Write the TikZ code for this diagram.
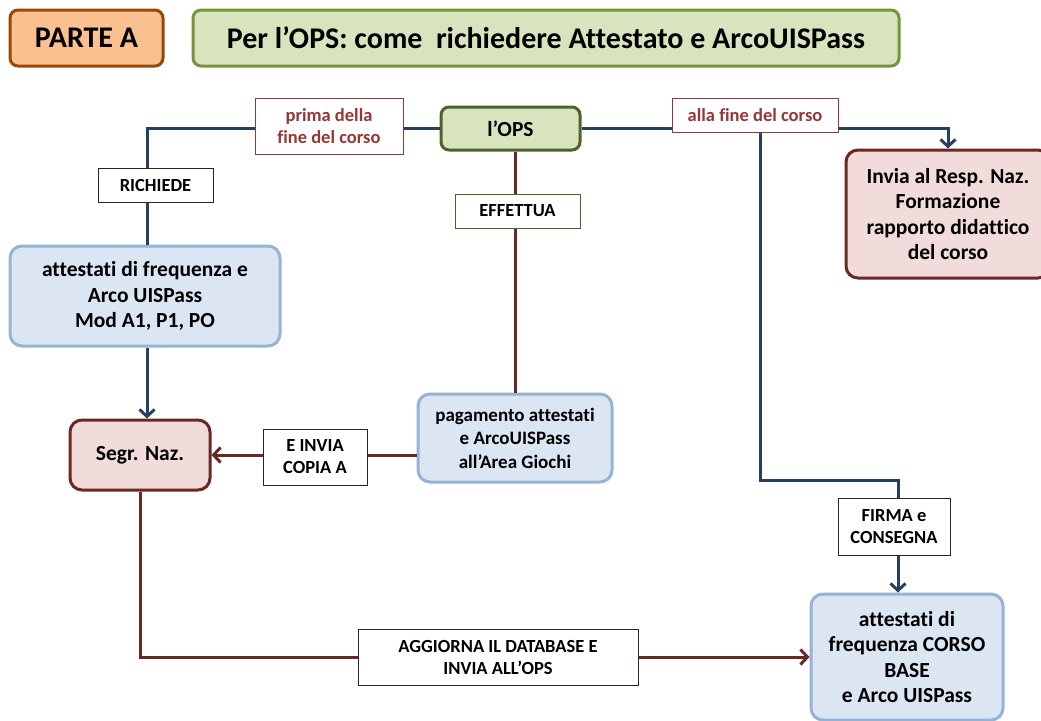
\documentclass[tikz,border=0pt]{standalone}
\usepackage{fontspec}
\setmainfont{Carlito}[Ligatures=NoCommon]
\usetikzlibrary{arrows.meta}
\definecolor{navy}{HTML}{27405F}
\definecolor{darkred}{HTML}{682826}
\definecolor{tagred}{HTML}{953735}
\definecolor{boxblue}{HTML}{DCE6F2}
\definecolor{edgeblue}{HTML}{95B3D7}
\definecolor{boxpink}{HTML}{F2DCDB}
\definecolor{boxgreen}{HTML}{D7E4BD}
\definecolor{edgegreen}{HTML}{77933C}
\definecolor{olive}{HTML}{4F6228}
\definecolor{boxorange}{HTML}{FAC090}
\definecolor{edgeorange}{HTML}{984807}
\tikzset{>={Straight Barb[length=7pt,width=15pt]}}
\tikzset{
  box/.style={rounded corners=12pt, line width=3pt, align=center, inner sep=2pt,
    font=\bfseries\fontsize{21.5}{25.5}\selectfont},
  bluebox/.style={box, fill=boxblue, draw=edgeblue},
  pinkbox/.style={box, fill=boxpink, draw=darkred},
  tag/.style={draw=black!85, fill=white, line width=1pt, align=center, inner sep=2pt,
    font=\bfseries\fontsize{18.5}{22}\selectfont},
  redtag/.style={tag, draw=tagred, text=tagred},
  navyline/.style={draw=navy, line width=3pt},
  redline/.style={draw=darkred, line width=3pt}
}
\begin{document}
\begin{tikzpicture}[x=1pt, y=-1pt]
  \useasboundingbox (0,0) rectangle (1041,720);
  \node [box, fill=boxorange, draw=edgeorange, rounded corners=8pt, minimum width=153pt, minimum height=56pt,
    font=\bfseries\fontsize{30}{32}\selectfont] (parte) at (86.5,38) {PARTE A};
  \node [box, fill=boxgreen, draw=edgegreen, rounded corners=8pt, minimum width=706pt, minimum height=56pt,
    font=\bfseries\fontsize{30}{32}\selectfont] (titolo) at (546,38) {Per l’OPS: come\ \ richiedere Attestato e ArcoUISPass};
  \node [box, fill=boxgreen, draw=olive, rounded corners=8pt, minimum width=139pt, minimum height=43pt] (ops) at (510.5,128.5) {l’OPS};
  \node [bluebox, minimum width=270pt, minimum height=100pt] (att) at (145,296) {attestati di frequenza e\\Arco UISPass\\Mod A1, P1, PO};
  \node [pinkbox, minimum width=140pt, minimum height=70pt] (segr) at (140,455) {Segr. Naz.};
  \node [bluebox, minimum width=194pt, minimum height=88pt, font=\bfseries\fontsize{19}{23.5}\selectfont] (pag) at (515,438) {pagamento attestati\\e ArcoUISPass\\all’Area Giochi};
  \node [pinkbox, minimum width=204pt, minimum height=128pt] (invia) at (948,214) {Invia al Resp. Naz.\\Formazione\\rapporto didattico\\del corso};
  \node [bluebox, minimum width=192pt, minimum height=126pt] (fin) at (907,657) {attestati di\\frequenza CORSO\\BASE\\e Arco UISPass};
  \coordinate (split) at (760,125);
  \coordinate (bend) at (898,480);
  \draw[navyline] (ops.west) -| (att.north -| 147,0);
  \draw[navyline, ->] (att.south -| 147,0) -- (segr.north -| 147,0);
  \draw[redline] (pag.north |- ops.south) -- (pag.north);
  \draw[redline, ->] (pag.west |- segr.east) -- (segr.east);
  \draw[navyline, ->] (ops.east) -| (invia.north);
  \draw[navyline, ->] (split) |- (bend) -- (bend |- fin.north);
  \draw[redline, ->] (segr.south) |- (fin.west);
  \node [redtag, minimum width=148pt, minimum height=56pt] (prima) at (329,126) {prima della\\fine del corso};
  \node [redtag, minimum width=166pt, minimum height=34pt] (alla) at (755,115) {alla fine del corso};
  \node [tag, minimum width=115pt, minimum height=34pt] (richiede) at (155.5,185) {RICHIEDE};
  \node [tag, draw=olive, minimum width=125pt, minimum height=34pt] (effettua) at (517.5,211) {EFFETTUA};
  \node [tag, minimum width=104pt, minimum height=56pt] (einvia) at (315,457) {E INVIA\\COPIA A};
  \node [tag, minimum width=112pt, minimum height=57pt] (firma) at (894,526.5) {FIRMA e\\CONSEGNA};
  \node [tag, minimum width=280pt, minimum height=56pt] (aggiorna) at (498,657) {AGGIORNA IL DATABASE E\\INVIA ALL’OPS};
\end{tikzpicture}
\end{document}
